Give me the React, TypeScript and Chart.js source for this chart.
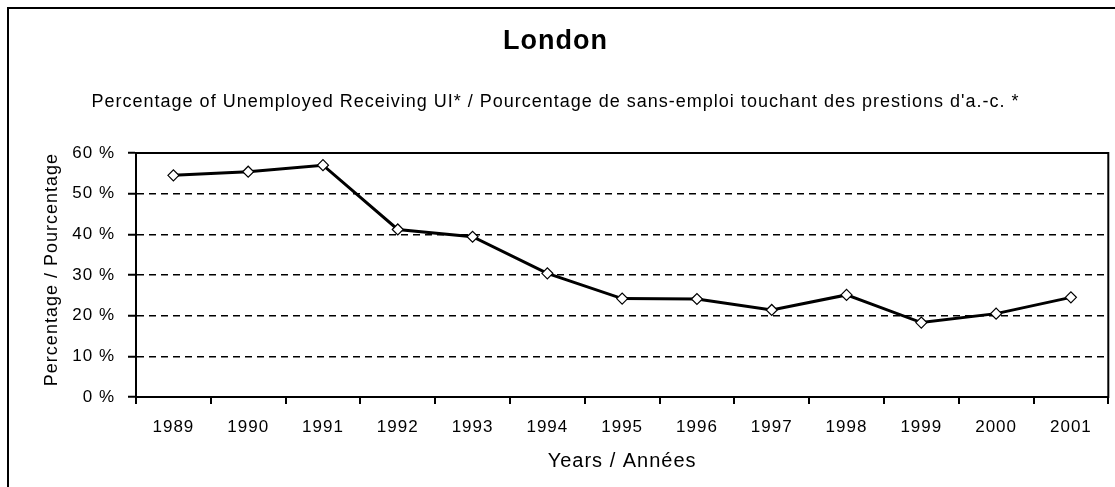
import React, { useEffect, useRef } from "react";
import { Chart, registerables } from "chart.js";

Chart.register(...registerables);

const years = ["1989", "1990", "1991", "1992", "1993", "1994", "1995", "1996", "1997", "1998", "1999", "2000", "2001"];
const percentReceivingUI = [54.5, 55.4, 57.0, 41.2, 39.4, 30.4, 24.2, 24.1, 21.4, 25.1, 18.3, 20.5, 24.5];
const yTicks = [0, 10, 20, 30, 40, 50, 60];

const titleText = "London";
const subtitleText = "Percentage of Unemployed Receiving UI* / Pourcentage de sans-emploi touchant des prestions d'a.-c. *";
const xTitle = "Years / Années";
const yTitle = "Percentage / Pourcentage";

const FONT = "'Liberation Sans', Arial, sans-serif";

const setSpacing = (chart: any) => {
  try {
    chart.ctx.letterSpacing = "1px";
  } catch (e) {}
};

const framePlugin = {
  id: "frame",
  beforeUpdate(chart: any) {
    setSpacing(chart);
  },
  beforeDraw(chart: any) {
    setSpacing(chart);
    const ctx = chart.ctx;
    ctx.save();
    ctx.fillStyle = "#ffffff";
    ctx.fillRect(0, 0, chart.width, chart.height);
    ctx.fillStyle = "#000000";
    ctx.fillRect(7, 7, 2, chart.height - 7);
    ctx.fillRect(7, 7, chart.width - 7, 2);
    ctx.restore();
  },
  beforeDatasetsDraw(chart: any) {
    const { ctx, chartArea } = chart;
    ctx.save();
    ctx.strokeStyle = "#000000";
    ctx.lineWidth = 2;
    ctx.strokeRect(chartArea.left, chartArea.top, chartArea.right - chartArea.left, chartArea.bottom - chartArea.top);
    ctx.restore();
  },
};

export default function App() {
  const ref = useRef<HTMLCanvasElement | null>(null);
  useEffect(() => {
    if (!ref.current) return;
    const chart = new Chart(ref.current, {
      type: "line",
      data: {
        labels: years,
        datasets: [
          {
            label: "UI",
            data: percentReceivingUI,
            borderColor: "#000000",
            borderWidth: 3,
            tension: 0,
            pointStyle: "rectRot",
            pointRadius: 5.5,
            pointBackgroundColor: "#ffffff",
            pointBorderColor: "#000000",
            pointBorderWidth: 1.2,
          },
        ],
      },
      options: {
        animation: false,
        responsive: true,
        maintainAspectRatio: false,
        layout: { padding: { left: 0, right: 4, top: 0, bottom: 0 } },
        plugins: {
          legend: { display: false },
          tooltip: { enabled: false },
          title: {
            display: true,
            text: titleText,
            color: "#000000",
            font: { family: FONT, size: 27, weight: "bold", lineHeight: 1.2 },
            padding: { top: 25, bottom: 0 },
          },
          subtitle: {
            display: true,
            text: subtitleText,
            color: "#000000",
            font: { family: FONT, size: 18, lineHeight: 1.2 },
            padding: { top: 34, bottom: 40 },
          },
        },
        scales: {
          x: {
            type: "category",
            offset: true,
            afterFit(scale: any) {
              scale.height = 90;
            },
            grid: {
              offset: true,
              drawOnChartArea: false,
              color: "#000000",
              lineWidth: 2,
              tickLength: 7,
            },
            border: { display: true, color: "#000000", width: 2 },
            ticks: {
              color: "#000000",
              font: { family: FONT, size: 17 },
              padding: 13,
              maxRotation: 0,
              autoSkip: false,
            },
            title: {
              display: true,
              text: xTitle,
              color: "#000000",
              font: { family: FONT, size: 20, lineHeight: 1.2 },
              padding: { top: 0, bottom: 14 },
            },
          },
          y: {
            min: 0,
            max: 60,
            afterFit(scale: any) {
              scale.width = 136;
            },
            afterBuildTicks(scale: any) {
              scale.ticks = yTicks.map((v) => ({ value: v }));
            },
            grid: {
              color: "#000000",
              lineWidth: 1.5,
              tickLength: 8,
              tickWidth: 2,
            },
            border: { display: true, color: "#000000", width: 2, dash: [7, 5] },
            ticks: {
              color: "#000000",
              font: { family: FONT, size: 17 },
              padding: 13,
              callback: (v: any) => `${v} %`,
            },
            title: {
              display: true,
              text: yTitle,
              align: "end",
              color: "#000000",
              font: { family: FONT, size: 18, lineHeight: 1.2 },
              padding: { top: 41, bottom: 0 },
            },
          },
        },
      },
      plugins: [framePlugin],
    });
    return () => chart.destroy();
  }, []);

  return (
    <div style={{ position: "absolute", left: 0, top: 0, width: 1115, height: 487, background: "#fff" }}>
      <canvas ref={ref} />
    </div>
  );
}
